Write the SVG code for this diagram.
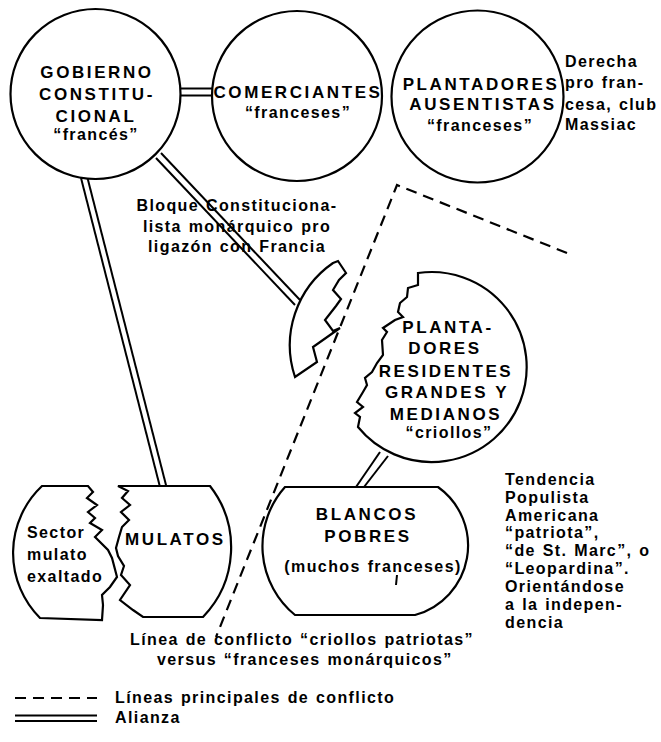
<svg xmlns="http://www.w3.org/2000/svg" width="661" height="742" viewBox="0 0 661 742">
<style>
.n{fill:#fff;stroke:#000;stroke-width:2.2;stroke-linejoin:miter}
.al{stroke:#000;stroke-width:2;fill:none}
.cf{stroke:#000;stroke-width:2.2;fill:none;stroke-dasharray:11 7}
text{font-family:"Liberation Sans",Arial,sans-serif;font-weight:bold;fill:#000}
.cap{font-size:17px;letter-spacing:2.6px}
.low{font-size:16px;letter-spacing:1.4px;word-spacing:1px}
.m{text-anchor:middle}
</style>
<rect width="661" height="742" fill="#fff"/>
<g id="connectors">
<line class="al" x1="181" y1="88.5" x2="213" y2="88.5"/>
<line class="al" x1="181" y1="95.5" x2="213" y2="95.5"/>
<line class="al" x1="161" y1="153" x2="300" y2="300"/>
<line class="al" x1="156" y1="158" x2="295" y2="305"/>
<line class="al" x1="81" y1="178" x2="160" y2="487"/>
<line class="al" x1="87.5" y1="178" x2="166.5" y2="487"/>
<line class="al" x1="380" y1="452" x2="356" y2="487"/>
<line class="al" x1="388" y1="456" x2="364" y2="487"/>
<polyline class="cf" points="567,253 397,185 216,637"/>
</g>
<g id="gobierno">
<circle class="n" cx="95.5" cy="94" r="85"/>
<text class="cap m" x="97" y="78">GOBIERNO</text>
<text class="cap m" x="97" y="100">CONSTITU-</text>
<text class="cap m" x="96" y="122">CIONAL</text>
<text class="low m" x="96" y="140">“francés”</text>
</g>
<g id="comerciantes">
<circle class="n" cx="297" cy="96" r="85"/>
<text class="cap m" x="298" y="98">COMERCIANTES</text>
<text class="low m" x="298" y="118">“franceses”</text>
</g>
<g id="plantadores-ausentistas">
<circle class="n" cx="477.5" cy="96.5" r="86"/>
<text class="cap m" x="481" y="90">PLANTADORES</text>
<text class="cap m" x="483" y="110">AUSENTISTAS</text>
<text class="low m" x="480" y="131">“franceses”</text>
</g>
<g id="derecha">
<text class="low" x="565" y="67">Derecha</text>
<text class="low" x="565" y="88">pro fran-</text>
<text class="low" x="565" y="110">cesa, club</text>
<text class="low" x="565" y="130">Massiac</text>
</g>
<g id="bloque">
<path class="n" d="M333 263 L338 261 L346 273 L339 280 L333 290 L341 299 L336 306 L325 320 L333 331 L340 328 L313 347 L317 362 L295 377 A100 100 0 0 1 333 263 Z"/>
<text class="low m" x="237" y="211">Bloque Constituciona-</text>
<text class="low m" x="237" y="232">lista monárquico pro</text>
<text class="low m" x="237" y="252">ligazón con Francia</text>
</g>
<g id="plantadores-residentes">
<path class="n" d="M418 273 A95 95 0 1 1 358 427 L360 417 L355 413 L363 407 L357 402 L363 392 L367 385 L365 378 L372 372 L377 363 L383 355 L382 340 L387 332 L383 328 L395 320 L403 317 L398 312 L400 303 L407 297 L408 288 L418 285 Z"/>
<text class="cap m" x="448" y="333">PLANTA-</text>
<text class="cap m" x="445" y="354">DORES</text>
<text class="cap m" x="446" y="377">RESIDENTES</text>
<text class="cap m" x="447" y="398">GRANDES Y</text>
<text class="cap m" x="446" y="420">MEDIANOS</text>
<text class="low m" x="449" y="438">“criollos”</text>
</g>
<g id="blancos-pobres">
<path class="n" d="M285 487 L438 487 A72 72 0 0 1 415 615 L295 615 A89 89 0 0 1 285 487 Z"/>
<text class="cap m" x="367" y="520">BLANCOS</text>
<text class="cap m" x="368" y="542">POBRES</text>
<text class="low m" x="373" y="572">(muchos franceses)</text>
<path d="M397 575 L396 585" stroke="#000" stroke-width="2" fill="none"/>
</g>
<g id="sector-mulato">
<path class="n" d="M88 486 L42 486 A92 92 0 0 0 40 618 L102 620 L103 605 L102 595 L110 587 L117 577 L112 558 L108 550 L95 537 L102 530 L90 523 L95 518 L88 512 L97 505 L87 498 L93 492 Z"/>
<text class="low" x="27" y="538">Sector</text>
<text class="low" x="27" y="560">mulato</text>
<text class="low" x="27" y="582">exaltado</text>
</g>
<g id="mulatos">
<path class="n" d="M118 486 L210 486 A100 100 0 0 1 203 617 L143 617 L133 610 L120 600 L130 585 L121 575 L124 566 L118 556 L116 548 L119 537 L122 527 L129 520 L121 512 L130 505 L122 498 L128 491 Z"/>
<text class="cap" x="125" y="545">MULATOS</text>
</g>
<g id="tendencia">
<text class="low" x="505" y="485">Tendencia</text>
<text class="low" x="505" y="503">Populista</text>
<text class="low" x="505" y="521">Americana</text>
<text class="low" x="505" y="538">“patriota”,</text>
<text class="low" x="505" y="556">“de St. Marc”, o</text>
<text class="low" x="505" y="574">“Leopardina”.</text>
<text class="low" x="505" y="592">Orientándose</text>
<text class="low" x="505" y="610">a la indepen-</text>
<text class="low" x="505" y="628">dencia</text>
</g>
<g id="conflict-label">
<text class="low" x="130" y="645">Línea de conflicto “criollos patriotas”</text>
<text class="low" x="157" y="665">versus “franceses monárquicos”</text>
</g>
<g id="legend">
<line class="cf" x1="15" y1="698" x2="97" y2="698" stroke-dasharray="10 6"/>
<text class="low" x="115" y="703">Líneas principales de conflicto</text>
<line class="al" x1="15" y1="715.5" x2="97" y2="715.5"/>
<line class="al" x1="15" y1="721" x2="97" y2="721"/>
<text class="low" x="115" y="723">Alianza</text>
</g>
</svg>
